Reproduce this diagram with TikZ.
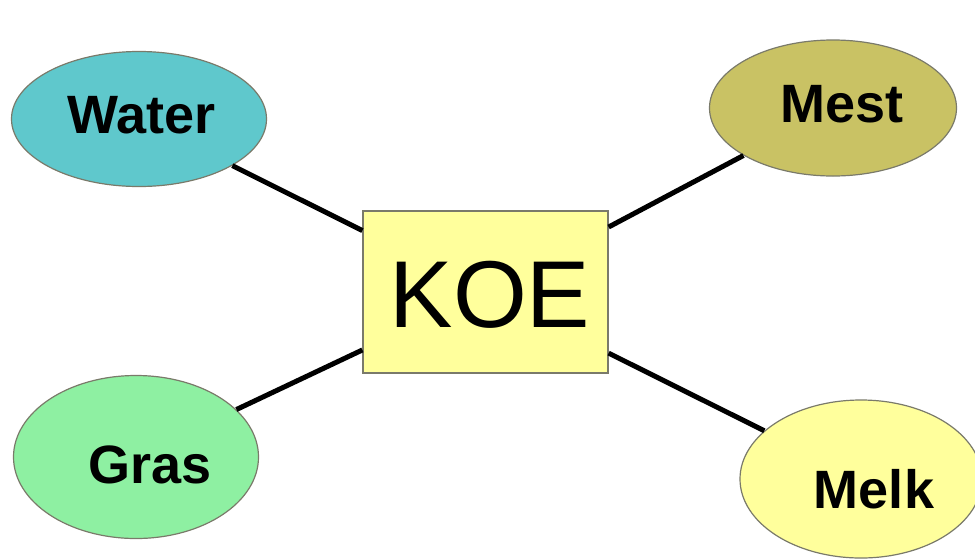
\documentclass[tikz,border=0pt]{standalone}
\usepackage{fontspec}
\setmainfont{Liberation Sans}
\usetikzlibrary{shapes.geometric}
\definecolor{waterc}{HTML}{5FC8CC}
\definecolor{mestc}{HTML}{C9C264}
\definecolor{grasc}{HTML}{8EF0A2}
\definecolor{melkc}{HTML}{FFFF9C}
\definecolor{koec}{HTML}{FFFF9C}
\definecolor{edgec}{HTML}{7A7A6A}
\tikzset{
  bubble/.style={ellipse, draw=edgec, line width=1.2pt, inner sep=0pt},
  koebox/.style={rectangle, draw=edgec, line width=1.2pt, fill=koec, minimum width=245pt, minimum height=162pt, inner sep=0pt},
  lbl/.style={font=\fontsize{54}{60}\selectfont\bfseries, inner sep=0pt},
  link/.style={line width=5pt, black}
}
\begin{document}
\begin{tikzpicture}[x=1pt,y=-1pt]
\useasboundingbox (0,0) rectangle (975,558);
\node[bubble, fill=waterc, minimum width=255pt, minimum height=135pt] (water) at (139,119) {};
\node[bubble, fill=mestc, minimum width=247pt, minimum height=136pt] (mest) at (833,108) {};
\node[bubble, fill=grasc, minimum width=245pt, minimum height=163pt] (gras) at (136,457) {};
\node[bubble, fill=melkc, minimum width=242pt, minimum height=158pt] (melk) at (861,479) {};
\node[koebox] (koe) at (485.5,292) {};
\node[font=\fontsize{95}{100}\selectfont, inner sep=0pt] (koet) at (490,295) {KOE};
\node[lbl] (watert) at (142,115) {Water};
\node[lbl] (mestt) at (842,104) {Mest};
\node[lbl] (grast) at (150,465) {Gras};
\node[lbl] (melkt) at (874,489) {Melk};
\draw[link] (water) -- (koe);
\draw[link] (mest) -- (koe);
\draw[link] (gras) -- (koe);
\draw[link] (melk) -- (koe);
\end{tikzpicture}
\end{document}
